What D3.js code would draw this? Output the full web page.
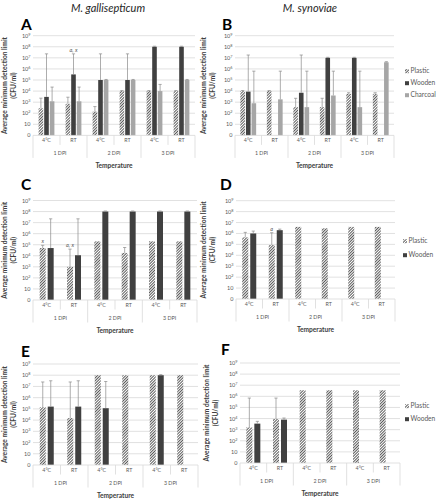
<!DOCTYPE html>
<html><head><meta charset="utf-8">
<script src="https://cdn.jsdelivr.net/npm/d3@7"></script>
<style>body{margin:0;background:#fff} text{font-family:Lato,"Liberation Sans",sans-serif}</style>
</head><body><svg id="c" width="441" height="500"></svg>
<script>
// ---- data ----
const categories = ["4°C","RT","4°C","RT","4°C","RT"];
const dpiGroups = ["1 DPI","2 DPI","3 DPI"];
const yTickExps = [0,1,2,3,4,5,6,7,8,9];
const speciesTitles = ["M. gallisepticum","M. synoviae"];
const panelLetters = ["A","B","C","D","E","F"];

// Panel A (M. gallisepticum, CFU/ml)
const A_plastic     = [280, 710, 140, 1e4, 1e4, 1e4];
const A_plasticErr  = [2300, 2800, 400, 11200, 11200, 11200];
const A_wooden      = [3000, 3.2e5, 1e5, 1e5, 1e8, 1e8];
const A_woodenErr   = [2.3e7, 2.3e7, 2.3e7, 2.3e7, 1.12e8, 1.12e8];
const A_charcoal    = [1200, 1200, 1e5, 1e5, 1e4, 1e5];
const A_charcoalErr = [23000, 23000, 112000, 112000, 40000, 112000];
// Panel B (M. synoviae)
const B_plastic     = [1e4, 1e4, 355, 355, 5600, 5600];
const B_plasticErr  = [11200, 11200, 2240, 2240, 7100, 7100];
const B_wooden      = [8900, null, 7100, 1e7, 1e7, null];
const B_woodenErr   = [1.8e7, null, 1.8e7, 1.12e7, 1.12e7, null];
const B_charcoal    = [800, 1800, 355, 4000, 355, 4e6];
const B_charcoalErr = [6.3e5, 6.3e5, 6.3e5, 6.3e5, 6.3e5, 4.5e6];
// Panel C
const C_plastic     = [5e4, 1000, 2e5, 18000, 2e5, 2e5];
const C_plasticErr  = [89000, 40000, null, 56000, null, null];
const C_wooden      = [5e4, 11200, 1e8, 1e8, 1e8, 1e8];
const C_woodenErr   = [2.2e7, 2.2e7, 1.12e8, 1.12e8, 1.12e8, 1.12e8];
// Panel D
const D_plastic     = [4.4e5, 8.7e4, 4e6, 2.95e6, 4e6, 4e6];
const D_plasticErr  = [1.26e6, 1.17e6, null, null, null, null];
const D_wooden      = [1e6, 2e6, null, null, null, null];
const D_woodenErr   = [1.66e6, 2.5e6, null, null, null, null];
// Panel E
const E_plastic     = [1.4e5, 1.5e4, 1e8, 1e8, 1e8, 1e8];
const E_plasticErr  = [2.5e7, 2.5e7, null, null, null, null];
const E_wooden      = [1.6e5, 1.6e5, 1.15e5, null, 1e8, null];
const E_woodenErr   = [3.2e7, 3.2e7, 2.75e7, null, 1.12e8, null];
// Panel F
const F_plastic     = [1600, 9100, 3.5e6, 3.5e6, 3.5e6, 3.5e6];
const F_plasticErr  = [7e5, 7e5, null, null, null, null];
const F_wooden      = [3500, 8000, null, null, null, null];
const F_woodenErr   = [5600, 11200, null, null, null, null];

// annotations: [panel, category index, series, text]
const annotations = [["A",1,"Wooden","a, x"],["C",0,"Plastic","x"],["C",1,"Plastic","a, x"],["D",1,"Plastic","a"]];

// ---- styling / layout ----
const colors = {Plastic:"url(#hatch)", Wooden:"#404040", Charcoal:"#a6a6a6"};
const textCol = "#595959", gridCol = "#d9d9d9";

const panels = [
 {id:"A", left:33, right:195, top:35.7, bottom:135.4, letter:[21,30], yl:[5,14],
  series:[{name:"Plastic",v:A_plastic,e:A_plasticErr},{name:"Wooden",v:A_wooden,e:A_woodenErr},{name:"Charcoal",v:A_charcoal,e:A_charcoalErr}]},
 {id:"B", left:235, right:394, top:35.7, bottom:135.4, letter:[222,30], yl:[204,213], legend:{x:405,ys:[73,85,97]},
  series:[{name:"Plastic",v:B_plastic,e:B_plasticErr},{name:"Wooden",v:B_wooden,e:B_woodenErr},{name:"Charcoal",v:B_charcoal,e:B_charcoalErr}]},
 {id:"C", left:33, right:197, top:200.5, bottom:300, letter:[21,190], yl:[5,14],
  series:[{name:"Plastic",v:C_plastic,e:C_plasticErr},{name:"Wooden",v:C_wooden,e:C_woodenErr}]},
 {id:"D", left:236, right:395, top:200.7, bottom:299, letter:[220,190], yl:[204,213], legend:{x:403,ys:[243,257]},
  series:[{name:"Plastic",v:D_plastic,e:D_plasticErr},{name:"Wooden",v:D_wooden,e:D_woodenErr}]},
 {id:"E", left:33, right:198, top:364, bottom:465, letter:[21,357], yl:[5,14],
  series:[{name:"Plastic",v:E_plastic,e:E_plasticErr},{name:"Wooden",v:E_wooden,e:E_woodenErr}]},
 {id:"F", left:240, right:400, top:363, bottom:463, letter:[221,355], yl:[207,216], legend:{x:405,ys:[408,421]},
  series:[{name:"Plastic",v:F_plastic,e:F_plasticErr},{name:"Wooden",v:F_wooden,e:F_woodenErr}]}
];

const svg = d3.select("#c");
const defs = svg.append("defs");
const pat = defs.append("pattern").attr("id","hatch").attr("patternUnits","userSpaceOnUse")
  .attr("width",2).attr("height",2).attr("patternTransform","rotate(45)");
pat.append("rect").attr("width",2).attr("height",2).attr("fill","#ffffff");
pat.append("line").attr("x1",0.5).attr("y1",0).attr("x2",0.5).attr("y2",2).attr("stroke","#5a5a5a").attr("stroke-width",1);

// titles
svg.append("text").attr("x",108).attr("y",12).attr("text-anchor","middle").attr("font-size",11)
  .attr("font-style","italic").attr("fill","#262626").text(speciesTitles[0]);
svg.append("text").attr("x",310).attr("y",12).attr("text-anchor","middle").attr("font-size",11)
  .attr("font-style","italic").attr("fill","#262626").text(speciesTitles[1]);

function drawPanel(cfg){
  const g = svg.append("g");
  const x = d3.scaleBand().domain(d3.range(categories.length)).range([cfg.left,cfg.right]);
  const y = d3.scaleLog().domain([1,1e9]).range([cfg.bottom,cfg.top]);
  const ticks = yTickExps.map(k=>Math.pow(10,k));

  // gridlines
  g.selectAll("line.grid").data(ticks.slice(1)).join("line").attr("class","grid")
    .attr("x1",cfg.left).attr("x2",cfg.right).attr("y1",d=>y(d)).attr("y2",d=>y(d))
    .attr("stroke",gridCol).attr("stroke-width",0.8);
  // tick labels
  const tl = g.selectAll("text.tick").data(yTickExps).join("text").attr("class","tick")
    .attr("x",cfg.left-2.5).attr("y",d=>y(Math.pow(10,d))+2).attr("text-anchor","end")
    .attr("font-size",5.5).attr("fill",textCol);
  tl.each(function(k){
    const t = d3.select(this);
    if(k===0){t.text("0");}
    else if(k===1){t.text("10");}
    else {t.append("tspan").text("10"); t.append("tspan").attr("dy",-2).attr("font-size",3.8).text(k);}
  });

  // bars
  const n = cfg.series.length;
  const bw = n===3?4.6:6, step = n===3?5.6:8;
  const gw = step*(n-1)+bw;
  const off = (x.bandwidth()-gw)/2;
  const xs = d3.scaleBand().domain(cfg.series.map(s=>s.name)).range([off,off+gw]).paddingInner((step-bw)/step).paddingOuter(0);

  cfg.series.forEach(s=>{
    const pts = s.v.map((v,i)=>({i,v,e:s.e[i]})).filter(d=>d.v!=null);
    g.selectAll(null).data(pts).join("rect")
      .attr("x",d=>x(d.i)+xs(s.name)).attr("width",xs.bandwidth())
      .attr("y",d=>y(d.v)).attr("height",d=>cfg.bottom-y(d.v))
      .attr("fill",colors[s.name]);
    const eb = pts.filter(d=>d.e!=null);
    g.selectAll(null).data(eb).join("line")
      .attr("x1",d=>x(d.i)+xs(s.name)+xs.bandwidth()/2).attr("x2",d=>x(d.i)+xs(s.name)+xs.bandwidth()/2)
      .attr("y1",d=>y(d.v)).attr("y2",d=>y(d.e)).attr("stroke","#8a8a8a").attr("stroke-width",0.7);
    g.selectAll(null).data(eb).join("line")
      .attr("x1",d=>x(d.i)+xs(s.name)+xs.bandwidth()/2-1.6).attr("x2",d=>x(d.i)+xs(s.name)+xs.bandwidth()/2+1.6)
      .attr("y1",d=>y(d.e)).attr("y2",d=>y(d.e)).attr("stroke","#8a8a8a").attr("stroke-width",0.7);
  });

  // annotations
  annotations.filter(a=>a[0]===cfg.id).forEach(a=>{
    const s = cfg.series.find(q=>q.name===a[2]);
    const top = s.e[a[1]]!=null ? s.e[a[1]] : s.v[a[1]];
    g.append("text").attr("x",x(a[1])+xs(a[2])+xs.bandwidth()/2).attr("y",y(top)-1.8)
      .attr("text-anchor","middle").attr("font-size",5.5).attr("font-style","italic").attr("fill",textCol).text(a[3]);
  });

  // category axis
  const b = cfg.bottom;
  g.append("line").attr("x1",cfg.left).attr("x2",cfg.right).attr("y1",b).attr("y2",b).attr("stroke",gridCol).attr("stroke-width",0.8);
  d3.range(categories.length+1).forEach(i=>{
    const xx = i<categories.length ? x(i) : cfg.right;
    const len = (i%2===0)?22.5:9.5;
    g.append("line").attr("x1",xx).attr("x2",xx).attr("y1",b).attr("y2",b+len).attr("stroke",gridCol).attr("stroke-width",0.8);
  });
  g.selectAll("text.cat").data(categories).join("text").attr("class","cat")
    .attr("x",(d,i)=>x(i)+x.bandwidth()/2).attr("y",b+7).attr("text-anchor","middle")
    .attr("font-size",5.3).attr("fill",textCol).text(d=>d);
  g.selectAll("text.grp").data(dpiGroups).join("text").attr("class","grp")
    .attr("x",(d,i)=>x(2*i)+x.bandwidth()).attr("y",b+19.5).attr("text-anchor","middle")
    .attr("font-size",5.3).attr("fill",textCol).text(d=>d);
  g.append("text").attr("x",(cfg.left+cfg.right)/2).attr("y",b+32.5).attr("text-anchor","middle")
    .attr("font-size",6.6).attr("font-weight","bold").attr("fill","#404040").text("Temperature");

  // y-axis title
  const cy = (cfg.top+cfg.bottom)/2;
  g.append("text").attr("transform",`translate(${cfg.yl[0]+2.3},${cy}) rotate(-90)`).attr("text-anchor","middle")
    .attr("font-size",6.6).attr("font-weight","bold").attr("fill","#404040").text("Average minimum detection limit");
  g.append("text").attr("transform",`translate(${cfg.yl[1]+2.3},${cy}) rotate(-90)`).attr("text-anchor","middle")
    .attr("font-size",6.6).attr("font-weight","bold").attr("fill","#404040").text("(CFU/ml)");

  // panel letter
  g.append("text").attr("x",cfg.letter[0]).attr("y",cfg.letter[1]).attr("font-size",15.5).attr("font-weight","bold")
    .attr("fill","#000").text(cfg.id);

  // legend
  if(cfg.legend){
    cfg.series.forEach((s,i)=>{
      const ly = cfg.legend.ys[i];
      g.append("rect").attr("x",cfg.legend.x).attr("y",ly-3.8).attr("width",4).attr("height",4).attr("fill",colors[s.name]);
      g.append("text").attr("x",cfg.legend.x+5.5).attr("y",ly).attr("font-size",6.6).attr("fill",textCol).text(s.name);
    });
  }
}
panels.forEach(drawPanel);
</script></body></html>
